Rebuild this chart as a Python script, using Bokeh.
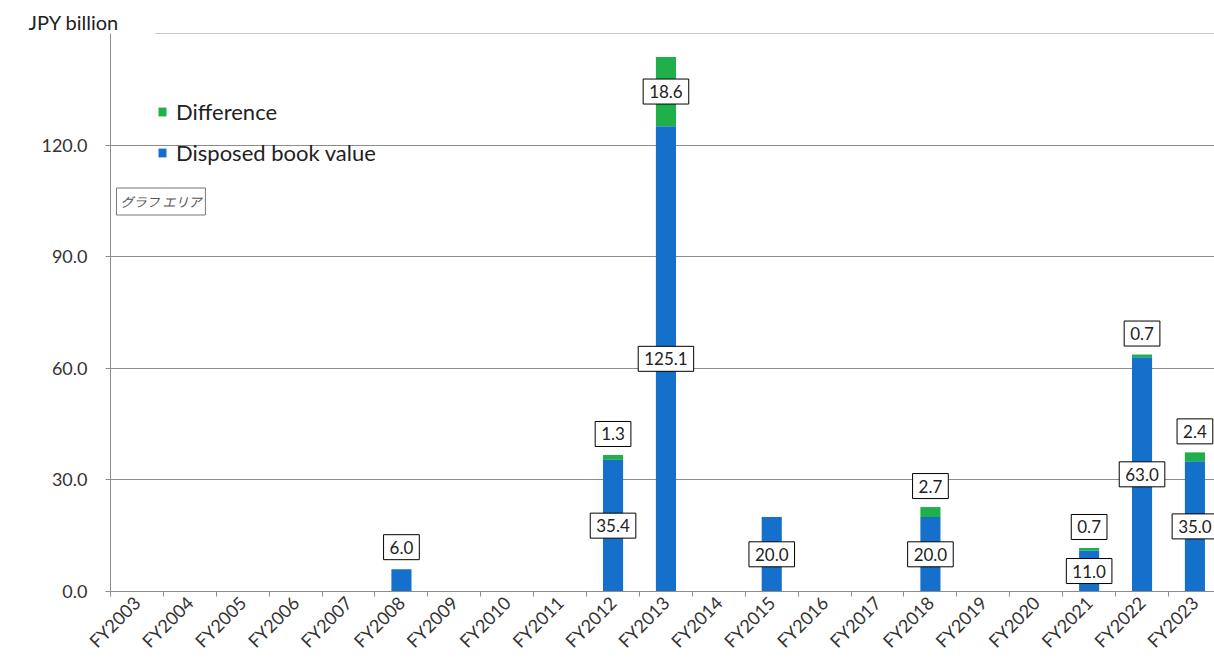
from bokeh.plotting import figure
from bokeh.models import ColumnDataSource, FixedTicker, Legend, LegendItem, Label, Range1d, Title
from bokeh.core.properties import value
from bokeh.embed import file_html
from bokeh.resources import INLINE

categories = ["FY2003", "FY2004", "FY2005", "FY2006", "FY2007", "FY2008", "FY2009",
              "FY2010", "FY2011", "FY2012", "FY2013", "FY2014", "FY2015", "FY2016",
              "FY2017", "FY2018", "FY2019", "FY2020", "FY2021", "FY2022", "FY2023"]
disposed = [0, 0, 0, 0, 0, 6.0, 0, 0, 0, 35.4, 125.1, 0, 20.0, 0, 0, 20.0, 0, 0, 11.0, 63.0, 35.0]
difference = [0, 0, 0, 0, 0, 0, 0, 0, 0, 1.3, 18.6, 0, 0, 0, 0, 2.7, 0, 0, 0.7, 0.7, 2.4]
y_ticks = [0, 30, 60, 90, 120]

BLUE = "#1570CC"
GREEN = "#1FB04B"
FONT = "Lato"
GRID = "#8C8C8C"

xc = [i + 0.5 for i in range(len(categories))]
tops = [d + f for d, f in zip(disposed, difference)]

src = ColumnDataSource(dict(x=xc, disposed=disposed, diff=difference, top=tops))

p = figure(width=1214, height=662, output_backend="svg", toolbar_location=None,
           x_range=Range1d(0, 20.87), y_range=Range1d(0, 150),
           min_border_left=110, min_border_right=0, min_border_top=33, min_border_bottom=71)
p.outline_line_color = None
p.background_fill_color = "white"

w = 0.38
r_blue = p.vbar(x="x", width=w, bottom=0, top="disposed", source=src, fill_color=BLUE, line_color=None)
r_green = p.vbar(x="x", width=w, bottom="disposed", top="top", source=src, fill_color=GREEN, line_color=None)

# axes
p.xaxis.ticker = FixedTicker(ticks=xc, minor_ticks=list(range(0, len(categories) + 1)))
p.xaxis.major_label_overrides = {x: c for x, c in zip(xc, categories)}
p.xaxis.major_label_orientation = 0.785
p.xaxis.major_tick_out = 0
p.xaxis.major_tick_in = 0
p.xaxis.minor_tick_in = 0
p.xaxis.minor_tick_out = 5
p.xaxis.minor_tick_line_color = GRID
p.xaxis.axis_line_color = GRID
p.xaxis.major_label_text_font = FONT
p.xaxis.major_label_text_font_size = "18px"
p.xaxis.major_label_text_color = "#333333"
p.xaxis.major_label_standoff = 3

p.yaxis.ticker = FixedTicker(ticks=y_ticks)
p.yaxis.major_label_overrides = {t: f"{t:.1f}" for t in y_ticks}
p.yaxis.major_tick_out = 5
p.yaxis.major_tick_in = 0
p.yaxis.minor_tick_line_color = None
p.yaxis.major_tick_line_color = GRID
p.yaxis.axis_line_color = GRID
p.yaxis.major_label_text_font = FONT
p.yaxis.major_label_text_font_size = "18px"
p.yaxis.major_label_text_color = "#333333"
p.yaxis.major_label_standoff = 18

p.xgrid.grid_line_color = None
p.ygrid.ticker = FixedTicker(ticks=y_ticks)
p.ygrid.grid_line_color = GRID
p.ygrid.grid_line_width = 1

# top gridline at 150 (partly hidden by unit label in the original)
p.segment(x0=[0.85], y0=[150], x1=[20.87], y1=[150], line_color=GRID, line_width=1)

# data labels
lab_x, lab_y, lab_t, lab_off = [], [], [], []
for x, d, f, t in zip(xc, disposed, difference, tops):
    if d > 0:
        if d < 8:
            lab_x.append(x); lab_y.append(t); lab_t.append(f"{d:.1f}"); lab_off.append(-22)
        else:
            lab_x.append(x); lab_y.append(d / 2); lab_t.append(f"{d:.1f}"); lab_off.append(0)
    if f > 0:
        if f > 8:
            lab_x.append(x); lab_y.append(d + f / 2); lab_t.append(f"{f:.1f}"); lab_off.append(0)
        else:
            lab_x.append(x); lab_y.append(t); lab_t.append(f"{f:.1f}"); lab_off.append(-21)

lsrc = ColumnDataSource(dict(x=lab_x, y=lab_y, t=lab_t, off=lab_off))
p.text(x="x", y="y", text="t", y_offset="off", source=lsrc,
       text_align="center", text_baseline="middle",
       text_font=value(FONT), text_font_size="17px", text_color="#222222",
       background_fill_color="white", border_line_color="black", border_line_width=1,
       padding=6)

legend = Legend(items=[LegendItem(label="Difference", renderers=[r_green]),
                       LegendItem(label="Disposed book value", renderers=[r_blue])],
                location=(47, 425), background_fill_alpha=0, border_line_color=None,
                label_text_font=FONT, label_text_font_size="22px", label_text_color="#222222",
                glyph_width=10, glyph_height=11, spacing=14, label_height=27, padding=4,
                label_standoff=9)
p.add_layout(legend, "center")

p.add_layout(Title(text="JPY billion", align="left", offset=-82,
                   text_font=FONT, text_font_size="20px", text_color="#222222",
                   text_font_style="normal", standoff=0), "above")

# Excel "chart area" tooltip box, next to the axis (outside-frame annotations are clipped)
p.add_layout(Label(x=6, y=390, x_units="screen", y_units="screen", text="グラフ エリア",
                   text_font="Noto Sans CJK JP", text_font_size="13px", text_color="#555555",
                   text_baseline="middle", text_align="left", text_font_style="italic",
                   background_fill_color="white", border_line_color="#777777", padding=4))

open("out.html", "w").write(file_html(p, INLINE))
